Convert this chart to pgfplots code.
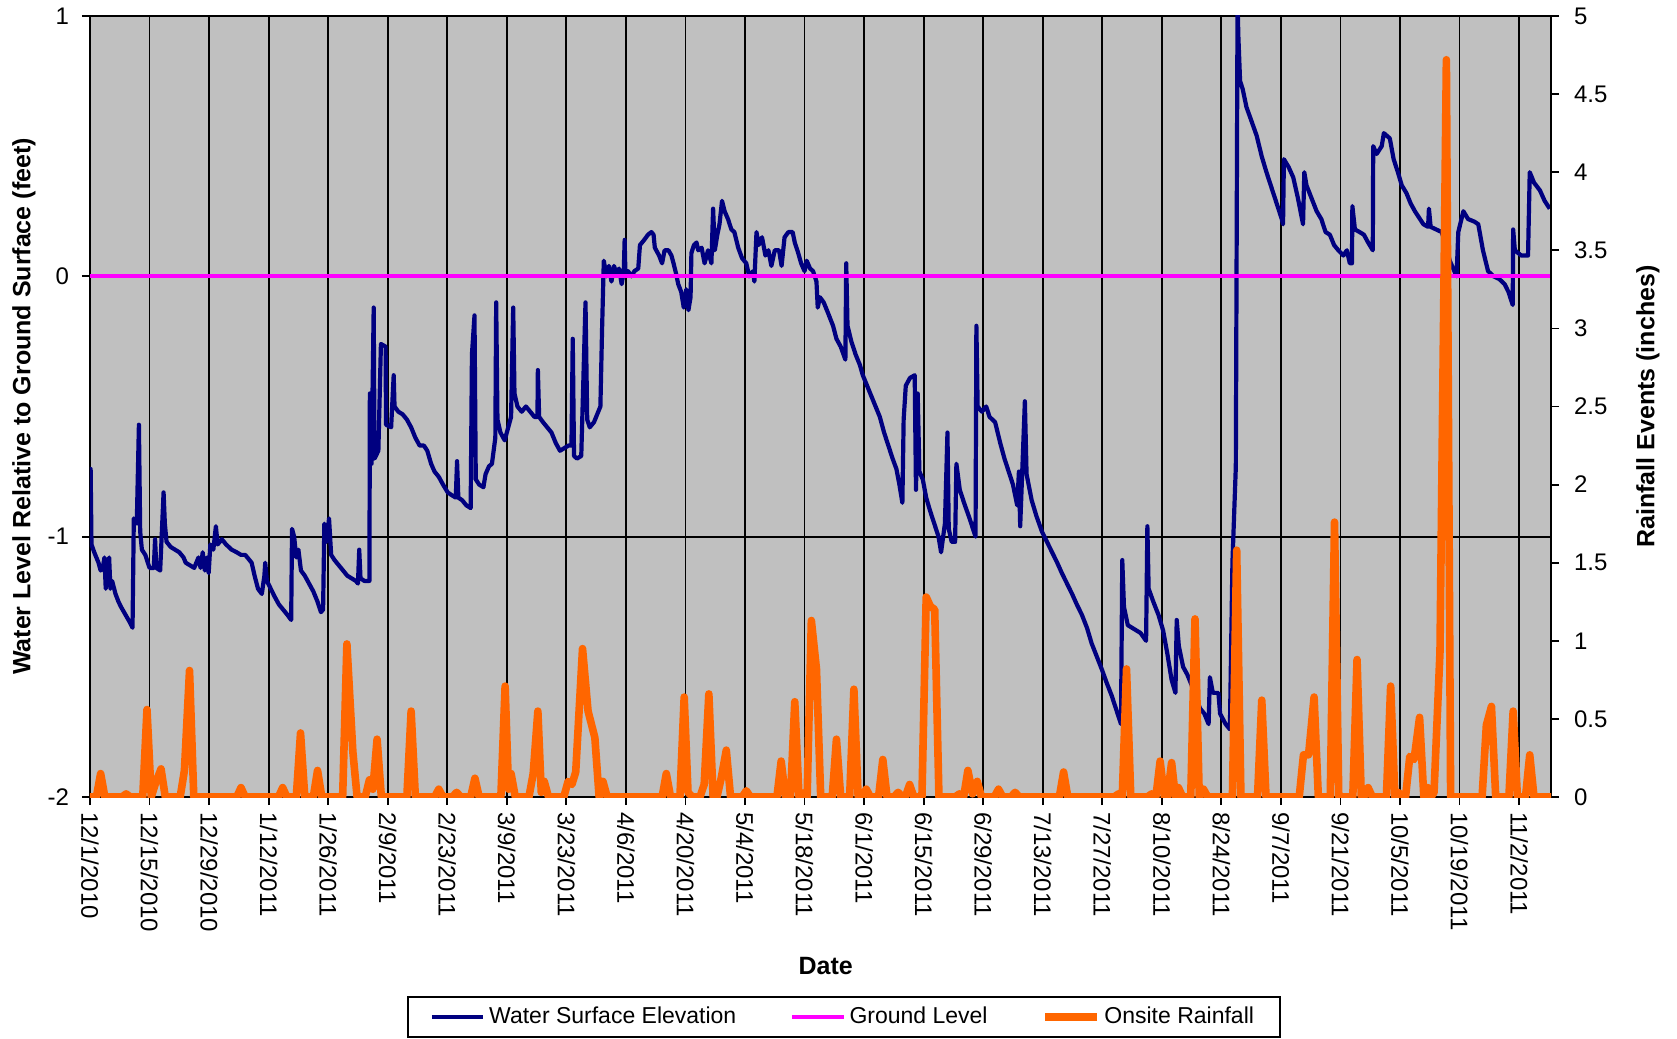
\documentclass[border=0pt]{standalone}
\usepackage{pgfplots}
\pgfplotsset{compat=1.18}
\usepackage{fontspec}
\setmainfont{Liberation Sans}
\definecolor{wnavy}{RGB}{0,0,128}
\definecolor{gmag}{RGB}{255,0,255}
\definecolor{rorange}{RGB}{255,102,0}
\definecolor{bggray}{RGB}{192,192,192}
\newcommand\tickfont{\fontsize{12}{14}\selectfont}
\newcommand\labfont{\fontsize{12.5}{15}\selectfont\bfseries}
\begin{document}
\begin{tikzpicture}
\useasboundingbox (-45pt,-121pt) rectangle (793.5pt,398.5pt);
\begin{axis}[
  scale only axis, width=730.5pt, height=390.5pt,
  xmin=0, xmax=343.5, ymin=-2, ymax=1,
  axis background/.style={fill=bggray, draw=gray},
  axis x line*=bottom, axis y line*=left,
  axis line style={line width=0.9pt, black, -},
  /pgf/number format/assume math mode=true,
  xtick={0,14,...,336},
  xticklabels={12/1/2010,12/15/2010,12/29/2010,1/12/2011,1/26/2011,2/9/2011,2/23/2011,3/9/2011,3/23/2011,4/6/2011,4/20/2011,5/4/2011,5/18/2011,6/1/2011,6/15/2011,6/29/2011,7/13/2011,7/27/2011,8/10/2011,8/24/2011,9/7/2011,9/21/2011,10/5/2011,10/19/2011,11/2/2011},
  xticklabel style={rotate=-90, anchor=west, font=\tickfont},
  ytick={-2,-1,0,1},
  yticklabel style={font=\tickfont, xshift=-3pt},
  tick align=outside, major tick length=4pt,
  tick style={black, line width=0.9pt},
  grid=major, major grid style={black, line width=0.9pt},
  xlabel={Date},
  xlabel style={font=\labfont, at={(axis description cs:0.5036,-0.216)}, anchor=center},
  ylabel={Water Level Relative to Ground Surface (feet)},
  ylabel style={font=\labfont, at={(axis description cs:-0.0452,0.5)}, anchor=center},
]
\addplot[wnavy, line width=2.1pt, line join=round] coordinates {
(0,-0.98)(0.15,-0.74)(0.35,-1.03)(1,-1.06)(2,-1.1)(2.5,-1.13)(3,-1.12)(3.4,-1.08)(3.7,-1.2)(4.1,-1.14)(4.5,-1.08)(4.8,-1.2)(5.2,-1.17)(6,-1.22)(6.7,-1.25)(7.3,-1.27)(8,-1.29)(8.7,-1.31)(9.4,-1.33)(10,-1.35)(10.3,-0.93)(11,-0.95)(11.5,-0.57)(11.8,-0.98)(12.2,-1.05)(13,-1.07)(14,-1.12)(15,-1.12)(15.3,-1.01)(15.6,-1.12)(16.5,-1.13)(17.3,-0.83)(17.6,-0.95)(18,-1.02)(19,-1.04)(20,-1.05)(21,-1.06)(22,-1.08)(22.5,-1.1)(23.5,-1.11)(24.5,-1.12)(25.5,-1.08)(26,-1.12)(26.5,-1.06)(27,-1.13)(27.5,-1.08)(27.9,-1.14)(28.3,-1.03)(29,-1.05)(29.6,-0.96)(30,-1.03)(31,-1.01)(32,-1.03)(33.3,-1.05)(34.5,-1.06)(35.5,-1.07)(36.5,-1.07)(38,-1.1)(38.7,-1.15)(39.5,-1.2)(40.4,-1.22)(41,-1.15)(41.2,-1.1)(41.6,-1.17)(42.5,-1.2)(43.4,-1.23)(44.4,-1.26)(45.4,-1.28)(46.4,-1.3)(47.3,-1.32)(47.5,-0.97)(48,-1.0)(48.5,-1.08)(49,-1.05)(49.6,-1.13)(50.5,-1.15)(51.5,-1.18)(52.5,-1.21)(53.5,-1.25)(54.3,-1.29)(54.8,-1.28)(55.1,-0.95)(55.6,-1.02)(56.2,-0.93)(56.7,-1.07)(57.5,-1.09)(58.5,-1.11)(59.5,-1.13)(60.5,-1.15)(61.5,-1.16)(62.5,-1.17)(63,-1.18)(63.3,-1.05)(63.6,-1.16)(64.5,-1.17)(65.7,-1.17)(65.8,-0.45)(66.2,-0.72)(66.7,-0.12)(66.9,-0.7)(67.8,-0.67)(68.4,-0.26)(69.5,-0.27)(69.6,-0.57)(70.8,-0.58)(71.4,-0.38)(71.6,-0.5)(72.5,-0.52)(73.5,-0.53)(74.5,-0.55)(75.5,-0.58)(76.5,-0.62)(77.5,-0.65)(78.5,-0.65)(79.3,-0.67)(80.2,-0.72)(81,-0.75)(82,-0.77)(83,-0.8)(84.1,-0.83)(85,-0.84)(86,-0.85)(86.3,-0.71)(86.6,-0.85)(87.5,-0.86)(88.5,-0.88)(89.5,-0.89)(89.8,-0.3)(90.4,-0.15)(90.7,-0.78)(91.5,-0.8)(92.5,-0.81)(93,-0.76)(93.8,-0.73)(94.5,-0.72)(95.3,-0.62)(95.5,-0.1)(95.8,-0.55)(96.5,-0.6)(97.5,-0.63)(98,-0.6)(99,-0.54)(99.5,-0.12)(99.8,-0.45)(100.5,-0.5)(101.5,-0.52)(102.5,-0.5)(103.5,-0.52)(104.5,-0.54)(105.2,-0.54)(105.3,-0.36)(105.6,-0.54)(106.5,-0.56)(107.5,-0.58)(108.5,-0.6)(109.5,-0.64)(110.5,-0.67)(111.5,-0.66)(112.5,-0.65)(113.2,-0.65)(113.5,-0.24)(113.8,-0.69)(114.5,-0.7)(115.5,-0.69)(116.5,-0.1)(116.9,-0.55)(117.5,-0.58)(118.5,-0.56)(119.5,-0.52)
(120,-0.5)(120.4,-0.2)(120.8,0.06)(121.4,0.0)(122,0.04)(122.6,-0.02)(123.2,0.04)(123.8,0.01)(124.4,0.03)(125,-0.03)(125.5,0.02)(125.7,0.14)(125.9,0.0)(126.5,0.02)(127.3,0.0)(128,0.02)(128.9,0.03)(129.3,0.12)(130.3,0.14)(131.2,0.16)(132,0.17)(132.5,0.16)(132.8,0.11)(133.8,0.08)(134.5,0.05)(135.1,0.1)(136,0.1)(136.7,0.08)(137.2,0.05)(137.8,0.01)(138.3,-0.03)(139,-0.06)(139.6,-0.12)(140.2,-0.05)(140.7,-0.13)(141.2,-0.08)(141.4,0.09)(142,0.12)(142.6,0.13)(143,0.1)(143.8,0.11)(144.5,0.05)(145.3,0.1)(146.1,0.05)(146.5,0.26)(146.9,0.1)(147.5,0.16)(148,0.2)(148.6,0.29)(149.2,0.25)(150,0.22)(150.8,0.18)(151.5,0.17)(152.4,0.11)(153.3,0.07)(154.3,0.05)(155,0.0)(155.9,0.02)(156.2,-0.02)(156.7,0.17)(157.2,0.12)(158,0.15)(158.8,0.08)(159.5,0.1)(160.2,0.04)(161,0.1)(162,0.1)(162.6,0.04)(163.3,0.15)(164.2,0.17)(165.2,0.17)(165.7,0.13)(166.5,0.09)(167.2,0.05)(168,0.02)(168.5,0.06)(169.3,0.03)
(170,0.02)(170.8,-0.02)(171.1,-0.12)(171.6,-0.08)(172.5,-0.1)(173.5,-0.14)(174.7,-0.19)(175.5,-0.24)(176.5,-0.27)(177.6,-0.32)(177.8,0.05)(178.1,-0.19)(179,-0.25)(180,-0.3)(181,-0.34)(181.7,-0.38)(182.7,-0.42)(183.7,-0.46)(184.7,-0.5)(185.7,-0.54)(186.7,-0.6)(187.7,-0.65)(188.7,-0.7)(189.6,-0.74)(190.3,-0.8)(191,-0.87)(191.3,-0.55)(191.8,-0.42)(192.8,-0.39)(193.9,-0.38)(194.2,-0.82)(194.6,-0.45)(195,-0.75)(195.8,-0.78)(196.6,-0.85)(197.5,-0.9)(198.5,-0.95)(199.5,-1.0)(200.1,-1.06)(201,-0.95)(201.6,-0.6)(201.9,-0.97)(202.6,-1.02)(203.4,-1.02)(203.7,-0.72)(204.5,-0.82)(205.5,-0.87)(206.8,-0.93)(207.6,-0.97)(208.2,-1.0)(208.4,-0.19)(208.7,-0.5)(209.7,-0.52)(210.7,-0.5)(211.5,-0.54)
(212.8,-0.56)(214,-0.64)(215,-0.7)(216,-0.75)(217,-0.8)(218,-0.88)(218.4,-0.75)(218.7,-0.96)(219.8,-0.48)(220.2,-0.76)(221.4,-0.86)(222.5,-0.92)(223.8,-0.98)(225,-1.02)(226.2,-1.06)(227.4,-1.1)(228.5,-1.14)(229.7,-1.18)(230.9,-1.22)(232,-1.26)(233.2,-1.3)(234.4,-1.35)(235.5,-1.41)(236.7,-1.46)(237.9,-1.51)(239,-1.56)(240.2,-1.61)(241.4,-1.67)(242.4,-1.72)
(242.7,-1.09)(243.1,-1.27)(244,-1.34)(245,-1.35)(246,-1.36)(247,-1.37)(248.3,-1.4)(248.6,-0.96)(248.9,-1.2)(250,-1.25)(251.2,-1.3)(252.3,-1.36)(253.3,-1.45)(254.3,-1.55)(255.2,-1.6)(255.5,-1.32)(256,-1.42)(257,-1.5)(258,-1.53)(259,-1.57)(260,-1.62)(261,-1.66)(262,-1.68)(263,-1.72)(263.3,-1.54)(264,-1.6)(265.3,-1.6)(265.7,-1.68)(267,-1.72)(268,-1.74)(268.6,-1.1)(269.4,-0.73)(269.8,1.05)(270,0.92)(270.4,0.75)(271,0.72)(271.9,0.65)(273,0.6)(274.3,0.54)(275.5,0.46)(276.6,0.4)(277.8,0.34)(279,0.28)(280.2,0.22)(280.5,0.2)(280.7,0.45)(281.8,0.42)(282.9,0.38)(284,0.3)(285.2,0.2)(285.5,0.4)(286,0.35)(287.2,0.3)(288.4,0.25)(289.5,0.22)(290.5,0.17)(291.5,0.16)(292.5,0.12)(293.5,0.1)(294.7,0.08)(295.5,0.1)(296.2,0.05)(296.7,0.05)(296.8,0.27)(297.4,0.18)(298.5,0.17)(299.5,0.16)(300.5,0.13)(301.6,0.1)(301.7,0.5)(302.5,0.47)(303.7,0.5)(304.2,0.55)(305.6,0.53)(306.5,0.45)(307.5,0.4)(308.4,0.35)(309.5,0.32)(310.5,0.28)(311.5,0.25)(312.3,0.23)(313.5,0.2)(314.6,0.19)(314.8,0.26)(315.2,0.19)(316.5,0.18)(317.8,0.17)(318.8,0.12)(319.7,0.06)(320.5,0.03)(321.3,0.0)(321.7,0.17)(322.9,0.25)(324,0.22)(325.5,0.21)(326.4,0.2)(327.5,0.1)(328.7,0.02)(330,0.0)(331.3,-0.01)(332.6,-0.03)(333.5,-0.06)(334.5,-0.11)(334.6,0.18)(335,0.1)(336.5,0.08)(338.1,0.08)(338.5,0.4)(339.5,0.36)(340.9,0.33)(342,0.29)(343.2,0.26)
};
\addplot[gmag, line width=2pt] coordinates {(0,0) (343.5,0)};
\end{axis}
\begin{axis}[
  scale only axis, width=730.5pt, height=390.5pt,
  xmin=0, xmax=343.5, ymin=0, ymax=5,
  axis x line=none, axis y line*=right,
  axis line style={line width=0.9pt, black, -},
  /pgf/number format/assume math mode=true,
  ytick={0,0.5,1,1.5,2,2.5,3,3.5,4,4.5,5},
  yticklabels={0,0.5,1,1.5,2,2.5,3,3.5,4,4.5,5},
  yticklabel style={font=\tickfont, xshift=4pt},
  tick align=outside, major tick length=4pt,
  tick style={black, line width=0.9pt},
  ylabel={Rainfall Events (inches)},
  ylabel style={font=\labfont, at={(axis description cs:1.0664,0.5)}, anchor=center},
  legend columns=3,
  legend style={at={(axis description cs:0.516,-0.2817)}, anchor=center,
    draw=black, line width=0.9pt, fill=white, font=\fontsize{11.5}{13}\selectfont,
    inner xsep=11pt, inner ysep=3pt,
    /tikz/every even column/.append style={column sep=25pt}},
  legend image code/.code={\draw[#1] (0cm,0cm) -- (0.9cm,0cm);},
]
\addlegendimage{wnavy, line width=2.1pt}
\addlegendentry{Water Surface Elevation}
\addlegendimage{gmag, line width=2pt}
\addlegendentry{Ground Level}
\addplot[rorange, line width=3.8pt, line join=round] coordinates {
(0,0)(1.5,0)(2.5,0.15)(3.5,0)(7.5,0)(8.5,0.02)(9.5,0)(12.4,0)(13.4,0.56)(14.4,0)(15.3,0.08)(16.7,0.18)(17.7,0)(21.2,0)(22.2,0.17)(23.4,0.81)(24.4,0)(34.5,0)(35.5,0.06)(36.5,0)(44.3,0)(45.3,0.06)(46.3,0)(48.5,0)(49.5,0.41)(50.5,0)(52.5,0)(53.5,0.17)(54.5,0)(59.4,0)(60.4,0.98)(61.8,0.29)(62.8,0)(64.7,0)(65.7,0.11)(66.5,0.05)(67.5,0.37)(68.5,0)(74.5,0)(75.5,0.55)(76.5,0)(81,0)(82,0.05)(83,0)(85.2,0)(86.2,0.03)(87.2,0)(89.5,0)(90.5,0.12)(91.5,0)(96.6,0)(97.6,0.71)(98.4,0.05)(99,0.15)(100,0)(103.2,0)(104.2,0.15)(105.3,0.55)(106.1,0.03)(106.8,0.1)(107.8,0)(111.4,0)(112.4,0.1)(113.3,0.08)(114.2,0.16)(115.8,0.95)(117.1,0.55)(118.7,0.38)(119.7,0)(120.6,0.1)(121.6,0)(134.5,0)(135.5,0.15)(136.5,0)(138.7,0)(139.7,0.64)(140.6,0.03)(141.6,0)(143.4,0)(144.4,0.08)(145.5,0.66)(146.5,0)(147.4,0)(148.4,0.12)(149.6,0.3)(150.6,0)(153.3,0)(154.3,0.04)(155.3,0)(161.5,0)(162.5,0.23)(163.5,0)(164.7,0)(165.7,0.61)(166.7,0)(167.2,0)(168,0.03)(168.6,0)(169.6,1.13)(170.8,0.82)(171.8,0)(174.5,0)(175.5,0.37)(176.5,0)(178.6,0)(179.6,0.69)(180.6,0)(181.5,0)(182.5,0.05)(183.5,0)(185.4,0)(186.4,0.24)(187.4,0)(189,0)(190,0.03)(191,0)(191.7,0)(192.7,0.08)(193.7,0)(195.6,0)(196.6,1.28)(197.6,1.22)(198.6,1.2)(199.6,0)(203.4,0)(204.4,0.02)(205.4,0)(206.4,0.17)(207.5,0.02)(208.6,0.1)(209.6,0)(212.6,0)(213.6,0.05)(214.6,0)(216.5,0)(217.5,0.03)(218.5,0)(227.9,0)(228.9,0.16)(229.9,0)(240.8,0)(241.8,0.02)(242.7,0)(243.7,0.82)(244.7,0)(248.6,0)(249.6,0.02)(250.6,0)(251.6,0.23)(252.6,0)(253.3,0)(254.3,0.22)(255.2,0)(255.9,0.06)(256.9,0)(258.8,0)(259.8,1.14)(260.8,0)(261.8,0.05)(262.8,0)(268.6,0)(269.6,1.58)(270.6,0)(274.5,0)(275.5,0.62)(276.5,0)(284.3,0)(285.3,0.27)(286.5,0.27)(287.8,0.64)(288.8,0)(291.6,0)(292.6,1.76)(293.6,0)(296.9,0)(297.9,0.88)(298.9,0)(299.5,0)(300.5,0.06)(301.5,0)(304.8,0)(305.8,0.71)(306.8,0)(307.6,0.03)(308.6,0)(309.3,0)(310.3,0.26)(311.3,0.24)(312.6,0.51)(313.6,0)(314.5,0.06)(315.3,0)(316,0.03)(317.4,0.93)(318.9,4.72)(319.9,0)(327.3,0)(328.3,0.46)(329.5,0.58)(330.5,0)(333.6,0)(334.6,0.55)(335.6,0)(337.5,0)(338.5,0.27)(339.5,0)(343.5,0)
};
\addlegendentry{Onsite Rainfall}
\end{axis}
\end{tikzpicture}
\end{document}
